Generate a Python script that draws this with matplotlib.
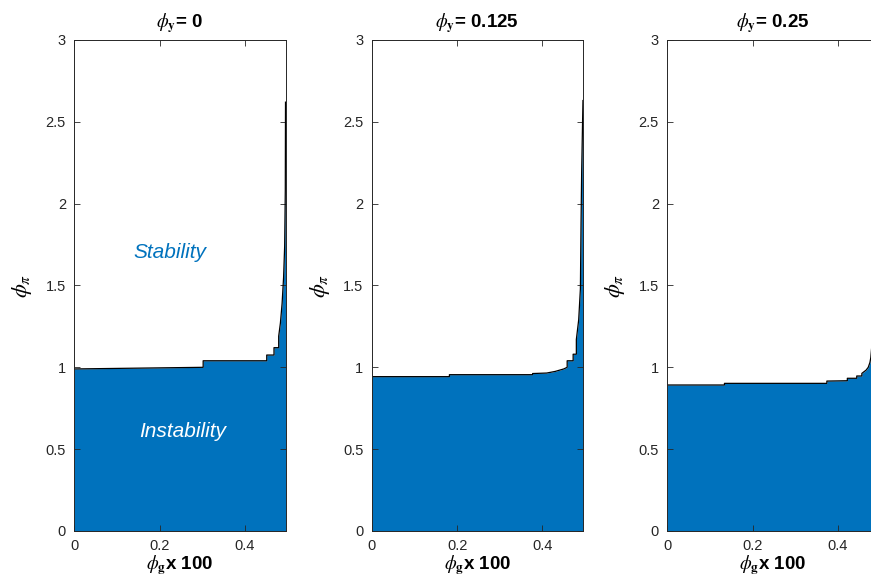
# stability regions for three values of phi_y
import matplotlib
matplotlib.use('Agg')
import matplotlib.pyplot as plt

plt.rcParams['font.family'] = ['Liberation Sans', 'DejaVu Sans']
plt.rcParams['mathtext.fontset'] = 'stix'

# panel titles (phi_y values)
phi_y_labels = ['0', '0.125', '0.25']

# boundary phi_pi(phi_g), steps as repeated x
phi_g_1 = [0, 0.302, 0.302, 0.451, 0.451, 0.468, 0.468, 0.479, 0.479,
           0.483, 0.487, 0.4905, 0.493, 0.4945, 0.495]
phi_pi_1 = [0.99, 1.0, 1.04, 1.04, 1.075, 1.075, 1.12, 1.12, 1.19,
            1.27, 1.39, 1.55, 1.74, 2.08, 2.62]

phi_g_2 = [0, 0.182, 0.182, 0.377, 0.377, 0.41, 0.43, 0.45, 0.458, 0.458,
           0.472, 0.472, 0.4795, 0.4795, 0.485, 0.489, 0.4905, 0.492, 0.495]
phi_pi_2 = [0.943, 0.943, 0.955, 0.955, 0.962, 0.965, 0.975, 0.99, 1.0, 1.04,
            1.04, 1.08, 1.08, 1.17, 1.29, 1.48, 1.88, 2.2, 2.63]

phi_g_3 = [0, 0.134, 0.134, 0.374, 0.374, 0.422, 0.422, 0.444, 0.444,
           0.456, 0.456, 0.466, 0.471, 0.475, 0.477, 0.485, 0.495]
phi_pi_3 = [0.892, 0.892, 0.902, 0.902, 0.916, 0.918, 0.933, 0.933, 0.947,
            0.947, 0.963, 0.983, 1.0, 1.03, 1.06, 1.3, 2.6]

boundaries = [(phi_g_1, phi_pi_1), (phi_g_2, phi_pi_2), (phi_g_3, phi_pi_3)]

x_ticks = [0, 0.2, 0.4]
x_tick_labels = ['0', '0.2', '0.4']
y_ticks = [0, 0.5, 1, 1.5, 2, 2.5, 3]
y_tick_labels = ['0', '0.5', '1', '1.5', '2', '2.5', '3']

fill_color = '#0072BD'
axis_color = '#262626'

fig = plt.figure(figsize=(8.71, 5.80), dpi=100)

lefts = [0.0853, 0.4268, 0.7661]
for i in range(3):
    ax = fig.add_axes([lefts[i], 0.0845, 0.2425, 0.8466])
    xs, ys = boundaries[i]
    ax.fill_between(xs, 0, ys, color=fill_color, linewidth=0)
    ax.plot(xs, ys, color='black', linewidth=0.9)

    ax.set_xlim(0, 0.495)
    ax.set_ylim(0, 3)
    ax.set_xticks(x_ticks)
    ax.set_xticklabels(x_tick_labels)
    ax.set_yticks(y_ticks)
    ax.set_yticklabels(y_tick_labels)
    ax.tick_params(direction='in', length=4, width=0.6, colors=axis_color,
                   labelsize=10.5, top=True, right=True, pad=6)
    for s in ax.spines.values():
        s.set_color(axis_color)
        s.set_linewidth(0.7)

    ax.set_title(r'$\phi_{\mathbf{y}}$= ' + phi_y_labels[i],
                 fontsize=13.5, fontweight='bold', pad=9)
    ax.set_xlabel(r'$\phi_{\mathbf{g}}$x 100', fontsize=13.5,
                  fontweight='bold', labelpad=0)
    ax.set_ylabel(r'$\phi_{\pi}$', fontsize=16, labelpad=8)

    if i == 0:
        ax.text(0.225, 1.70, 'Stability', color=fill_color, style='italic',
                fontsize=15, ha='center', va='center')
        ax.text(0.253, 0.61, 'Instability', color='white', style='italic',
                fontsize=15, ha='center', va='center')

fig.savefig('out.png', dpi=100)
